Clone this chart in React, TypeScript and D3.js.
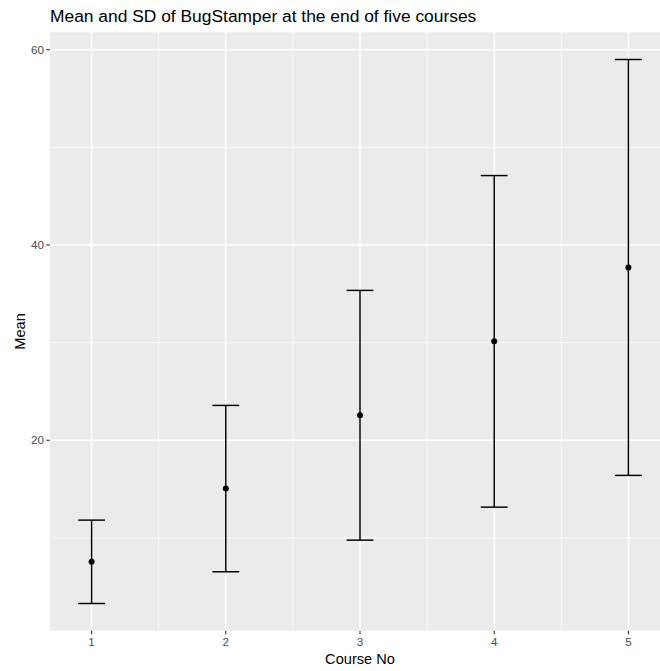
import React from 'react';
import * as d3 from 'd3';

// --- Data ---
const courses = [1, 2, 3, 4, 5];
const means = [7.55, 15.05, 22.56, 30.13, 37.7];
const sds = [4.27, 8.52, 12.79, 16.98, 21.3];
const yTicks = [20, 40, 60];
const yMinor = [10, 30, 50];
const xMinor = [1.5, 2.5, 3.5, 4.5];

const W = 660;
const H = 671;
const panel = { left: 50, top: 32.3, right: 670, bottom: 630.7 };
const capHalf = 0.1;
const font = '"Liberation Sans", Arial, Helvetica, sans-serif';

// ggplot style 5% expansion
const expand = (lo: number, hi: number): [number, number] => {
    const pad = (hi - lo) * 0.05;
    return [lo - pad, hi + pad];
};

const rows = courses.map((c, i) => ({
    course: c,
    mean: means[i],
    lower: means[i] - sds[i],
    upper: means[i] + sds[i],
}));

export default function App() {
    const x = d3.scaleLinear()
        .domain(expand(d3.min(courses)! - capHalf, d3.max(courses)! + capHalf))
        .range([panel.left, panel.right]);
    const y = d3.scaleLinear()
        .domain(expand(d3.min(rows, d => d.lower)!, d3.max(rows, d => d.upper)!))
        .range([panel.bottom, panel.top]);

    return (
        <svg width={W} height={H} style={{ position: 'absolute', left: 0, top: 0, display: 'block' }}>
            <rect x={0} y={0} width={W} height={H} fill="#fff" />
            <text x={50} y={21.5} fontFamily={font} fontSize={17.4} fill="#000">
                Mean and SD of BugStamper at the end of five courses
            </text>

            {/* panel */}
            <rect x={panel.left} y={panel.top} width={panel.right - panel.left} height={panel.bottom - panel.top} fill="#EBEBEB" />
            {yMinor.map(v => (
                <line key={'ym' + v} x1={panel.left} x2={panel.right} y1={y(v)} y2={y(v)} stroke="#fff" strokeWidth={0.75} />
            ))}
            {xMinor.map(v => (
                <line key={'xm' + v} x1={x(v)} x2={x(v)} y1={panel.top} y2={panel.bottom} stroke="#fff" strokeWidth={0.75} />
            ))}
            {yTicks.map(v => (
                <line key={'yM' + v} x1={panel.left} x2={panel.right} y1={y(v)} y2={y(v)} stroke="#fff" strokeWidth={1.45} />
            ))}
            {courses.map(v => (
                <line key={'xM' + v} x1={x(v)} x2={x(v)} y1={panel.top} y2={panel.bottom} stroke="#fff" strokeWidth={1.45} />
            ))}

            {/* error bars */}
            {rows.map(d => (
                <g key={d.course} stroke="#000" strokeWidth={1.45}>
                    <line x1={x(d.course)} x2={x(d.course)} y1={y(d.lower)} y2={y(d.upper)} />
                    <line x1={x(d.course - capHalf)} x2={x(d.course + capHalf)} y1={y(d.upper)} y2={y(d.upper)} />
                    <line x1={x(d.course - capHalf)} x2={x(d.course + capHalf)} y1={y(d.lower)} y2={y(d.lower)} />
                </g>
            ))}
            {rows.map(d => (
                <circle key={'p' + d.course} cx={x(d.course)} cy={y(d.mean)} r={3} fill="#000" />
            ))}

            {/* y axis */}
            {yTicks.map(v => (
                <g key={'yt' + v}>
                    <line x1={panel.left - 3.66} x2={panel.left} y1={y(v)} y2={y(v)} stroke="#333" strokeWidth={1.07} />
                    <text x={panel.left - 6} y={y(v)} dy="0.35em" textAnchor="end" fontFamily={font} fontSize={11.7} fill="#4D4D4D">{v}</text>
                </g>
            ))}
            {/* x axis */}
            {courses.map(v => (
                <g key={'xt' + v}>
                    <line x1={x(v)} x2={x(v)} y1={panel.bottom} y2={panel.bottom + 3.66} stroke="#333" strokeWidth={1.07} />
                    <text x={x(v)} y={645.5} textAnchor="middle" fontFamily={font} fontSize={11.7} fill="#4D4D4D">{v}</text>
                </g>
            ))}

            <text x={(panel.left + panel.right) / 2} y={663.5} textAnchor="middle" fontFamily={font} fontSize={14.6} fill="#000">Course No</text>
            <text transform={`translate(25,${(panel.top + panel.bottom) / 2}) rotate(-90)`} textAnchor="middle" fontFamily={font} fontSize={14.6} fill="#000">Mean</text>
        </svg>
    );
}
